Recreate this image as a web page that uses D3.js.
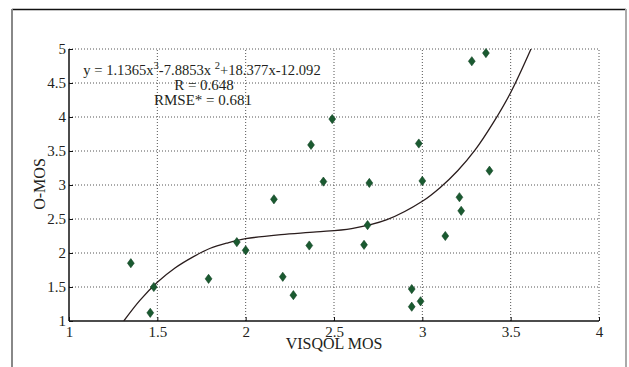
<!DOCTYPE html>
<html><head><meta charset="utf-8">
<script src="https://cdn.jsdelivr.net/npm/d3@7/dist/d3.min.js"></script>
<style>
html,body{margin:0;padding:0;background:#fff;}
svg{display:block;}
text{font-family:"Liberation Serif","Times New Roman",serif;fill:#231f20;}
</style></head>
<body>
<script>
// ---- data ----
const visqolMos = [1.35,1.46,1.48,1.79,1.95,2.00,2.16,2.21,2.27,2.36,2.37,2.44,2.49,2.67,2.69,2.70,2.94,2.94,2.98,2.99,3.00,3.13,3.21,3.22,3.28,3.36,3.38];
const oMos      = [1.85,1.12,1.50,1.62,2.16,2.04,2.79,1.65,1.38,2.11,3.59,3.05,3.97,2.12,2.41,3.03,1.47,1.21,3.61,1.29,3.06,2.25,2.82,2.62,4.82,4.94,3.21];
// fitted curve, points
const fitX = [1.31,1.4,1.5,1.6,1.7,1.8,1.9,2.0,2.2,2.4,2.6,2.8,3.0,3.1,3.2,3.3,3.4,3.5,3.615];
const fitY = [1.00,1.30,1.57,1.78,1.94,2.07,2.15,2.21,2.27,2.31,2.36,2.49,2.76,2.96,3.21,3.52,3.91,4.36,5.00];
const xTicks = [1,1.5,2,2.5,3,3.5,4];
const yTicks = [1,1.5,2,2.5,3,3.5,4,4.5,5];
const xLabel = "VISQOL MOS";
const yLabel = "O-MOS";
const rLine = "R = 0.648";
const rmseLine = "RMSE* = 0.681";

const W = 629, H = 367;
const svg = d3.select("body").append("svg").attr("width", W).attr("height", H);

// outer figure frame
svg.append("line").attr("x1",12).attr("x2",626).attr("y1",9.5).attr("y2",9.5).attr("stroke","#111").attr("stroke-width",1.5);
svg.append("line").attr("x1",12).attr("x2",12).attr("y1",9).attr("y2",H).attr("stroke","#888").attr("stroke-width",2);
svg.append("line").attr("x1",626).attr("x2",626).attr("y1",9).attr("y2",H).attr("stroke","#aaa").attr("stroke-width",2);

const x = d3.scaleLinear().domain([1,4]).range([69,599]);
const y = d3.scaleLinear().domain([1,5]).range([321,49]);

// grid
const grid = svg.append("g");
grid.selectAll(".gx").data(xTicks.slice(1)).join("line")
  .attr("x1",d=>x(d)).attr("x2",d=>x(d)).attr("y1",y(1)).attr("y2",y(5))
  .attr("stroke","#555").attr("stroke-width",1).attr("stroke-dasharray","1,2");
grid.selectAll(".gy").data(yTicks.slice(1)).join("line")
  .attr("x1",x(1)).attr("x2",x(4)).attr("y1",d=>y(d)).attr("y2",d=>y(d))
  .attr("stroke","#555").attr("stroke-width",1).attr("stroke-dasharray","1,2");

// axes
const xAxis = d3.axisBottom(x).tickValues(xTicks).tickSize(-4).tickPadding(8).tickFormat(d3.format("~g"));
const yAxis = d3.axisLeft(y).tickValues(yTicks).tickSize(-4).tickPadding(3).tickFormat(d3.format("~g"));
const gx = svg.append("g").attr("transform",`translate(0,${y(1)})`).call(xAxis);
const gy = svg.append("g").attr("transform",`translate(${x(1)},0)`).call(yAxis);
[gx,gy].forEach(g=>{
  g.select(".domain").attr("stroke","#111").attr("stroke-width",1.5);
  g.selectAll(".tick line").attr("stroke","#111").attr("stroke-width",1);
  g.selectAll(".tick text").attr("font-family","Liberation Serif, serif").attr("font-size",15).attr("fill","#231f20");
});
gx.select(".domain").attr("d",`M${x(1)},0H${x(4)}`);
gy.select(".domain").attr("d",`M0,${y(1)}V${y(5)}`);
gx.selectAll(".tick text").attr("dy","0.5em");

// clip
svg.append("clipPath").attr("id","clip").append("rect")
  .attr("x",x(1)).attr("y",y(5)).attr("width",x(4)-x(1)).attr("height",y(1)-y(5));

// fit curve
const line = d3.line().x(d=>x(d[0])).y(d=>y(d[1])).curve(d3.curveCatmullRom);
svg.append("path").datum(fitX.map((v,i)=>[v,fitY[i]]))
  .attr("clip-path","url(#clip)")
  .attr("d",line).attr("fill","none").attr("stroke","#2a1d1d").attr("stroke-width",1.3);

// points
const pts = visqolMos.map((v,i)=>[v,oMos[i]]);
svg.append("g").selectAll("path").data(pts).join("path")
  .attr("transform",d=>`translate(${x(d[0])},${y(d[1])})`)
  .attr("d","M0,-4.6L3.4,0L0,4.6L-3.4,0Z")
  .attr("fill","#1a5a30").attr("stroke","#0f4222").attr("stroke-width",0.6);

// equation text
const eq = svg.append("text").attr("x",202).attr("y",75).attr("text-anchor","middle").attr("font-size",14.6);
eq.append("tspan").text("y = 1.1365x");
eq.append("tspan").attr("dy",-6).attr("font-size",10.5).text("3");
eq.append("tspan").attr("dy",6).text("-7.8853x ");
eq.append("tspan").attr("dy",-6).attr("font-size",10.5).text("2");
eq.append("tspan").attr("dy",6).text("+18.377x-12.092");
svg.append("text").attr("x",204).attr("y",90).attr("text-anchor","middle").attr("font-size",15).text(rLine);
svg.append("text").attr("x",203).attr("y",105).attr("text-anchor","middle").attr("font-size",15).text(rmseLine);

// axis labels
svg.append("text").attr("x",334).attr("y",348.5).attr("text-anchor","middle").attr("font-size",16).text(xLabel);
svg.append("text").attr("transform","translate(45,184) rotate(-90)").attr("text-anchor","middle").attr("font-size",16).text(yLabel);
</script>
</body></html>
